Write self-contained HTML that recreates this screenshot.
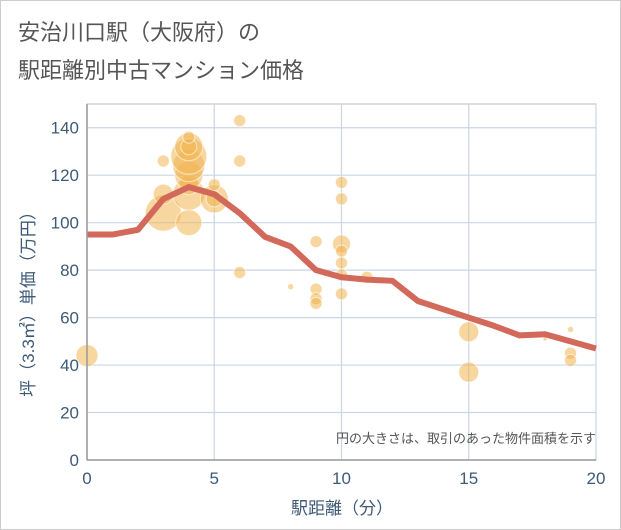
<!DOCTYPE html>
<html><head><meta charset="utf-8"><style>
body{margin:0;background:#fff;}
svg{display:block;font-family:"Liberation Sans","Noto Sans CJK JP",sans-serif;}
</style></head><body>
<svg width="621" height="530">
<rect x="0.5" y="0.5" width="620" height="529" fill="#fff" stroke="#ccc"/>
<text x="18" y="40" font-size="22" fill="#555">安治川口駅（大阪府）の</text>
<text x="18" y="78" font-size="22" fill="#555">駅距離別中古マンション価格</text>
<g id="grid"></g>
<g id="bubbles"></g>
<path id="line" fill="none" stroke="#d2695a" stroke-width="6" stroke-linejoin="round"/>
<g id="axes"></g>
<text x="596" y="443" font-size="13" fill="#555" text-anchor="end">円の大きさは、取引のあった物件面積を示す</text>
<text x="342" y="514" font-size="17" fill="#3d5a78" text-anchor="middle">駅距離（分）</text>
<text transform="translate(34,300) rotate(-90)" font-size="17" fill="#3d5a78" text-anchor="middle">坪（3.3㎡）単価（万円）</text>
</svg>
<script>
const xTicks=[0,5,10,15,20];
const yTicks=[0,20,40,60,80,100,120,140];
const lineX=[0,1,2,3,4,5,6,7,8,9,10,11,12,13,14,15,16,17,18,19,20];
const lineY=[95,95,97,110,115,112,104,94,90,80,77,76,75.5,67,63.5,60,56.5,52.5,53,50,47];
const bubbleX=[0,3,3,3,4,4,4,4,4,4,4,4,4,5,5,5,6,6,6,8,9,9,9,9,10,10,10,10,10,10,10,11,15,15,18,19,19,19];
const bubbleY=[44,104,112,126,100,112,116,120,124,128,132,132,136,110,116,110,143,126,79,73,92,72,68,66,117,110,91,88,83,78,70,77,54,37,51,55,45,42];
const bubbleR=[11,18,10,6,13,16,10,14,16,18,14,8,6,14,6,8,6,6,6,3,6,6,6,6,6,6,9,6,6,6,6,6,10,10,2,3,6,6];
const X0=87,X1=596,Y0=460,Y1=104;
const sx=v=>X0+(v-0)/20*(X1-X0);
const sy=v=>Y0-v/150*(Y0-Y1);
const NS="http://www.w3.org/2000/svg";
const grid=document.getElementById('grid'),axes=document.getElementById('axes'),bub=document.getElementById('bubbles');
function mk(tag,attrs,parent){const e=document.createElementNS(NS,tag);for(const k in attrs)e.setAttribute(k,attrs[k]);parent.appendChild(e);return e;}
const bg=mk('rect',{x:X0,y:Y1,width:X1-X0,height:Y0-Y1,fill:'#fff',stroke:'#bbb'},grid);


yTicks.forEach(t=>{
 const l=mk('line',{x1:X0,x2:X1,y1:sy(t),y2:sy(t),stroke:'#c9d6e6','stroke-width':1.2},grid);
 
 
 const tx=mk('text',{x:X0-8,y:sy(t)+6,'font-size':17,fill:'#3d5a78','text-anchor':'end'},axes);
 tx.textContent=t;
 
 
});
xTicks.forEach(t=>{
 const l=mk('line',{x1:sx(t),x2:sx(t),y1:Y1,y2:Y0,stroke:'#c9d6e6','stroke-width':1.2},grid);
 
 
 const tx=mk('text',{x:sx(t),y:Y0+24,'font-size':17,fill:'#3d5a78','text-anchor':'middle'},axes);
 tx.textContent=t;
 
 
});
const ax=mk('line',{x1:X0,x2:X0,y1:Y1,y2:Y0,stroke:'#999','stroke-width':1.5},axes);


const bx=mk('line',{x1:X0,x2:X1,y1:Y0,y2:Y0,stroke:'#999','stroke-width':1.5},axes);


bubbleX.forEach((v,i)=>{
 const c=mk('circle',{cx:sx(v),cy:sy(bubbleY[i]),r:bubbleR[i],fill:'#f0b551','fill-opacity':0.55,stroke:'#fff','stroke-opacity':0.6,'stroke-width':1},bub);
 
 
});
document.getElementById('line').setAttribute('d',lineX.map((v,i)=>(i?'L':'M')+sx(v)+','+sy(lineY[i])).join(''));
</script>
</body></html>
